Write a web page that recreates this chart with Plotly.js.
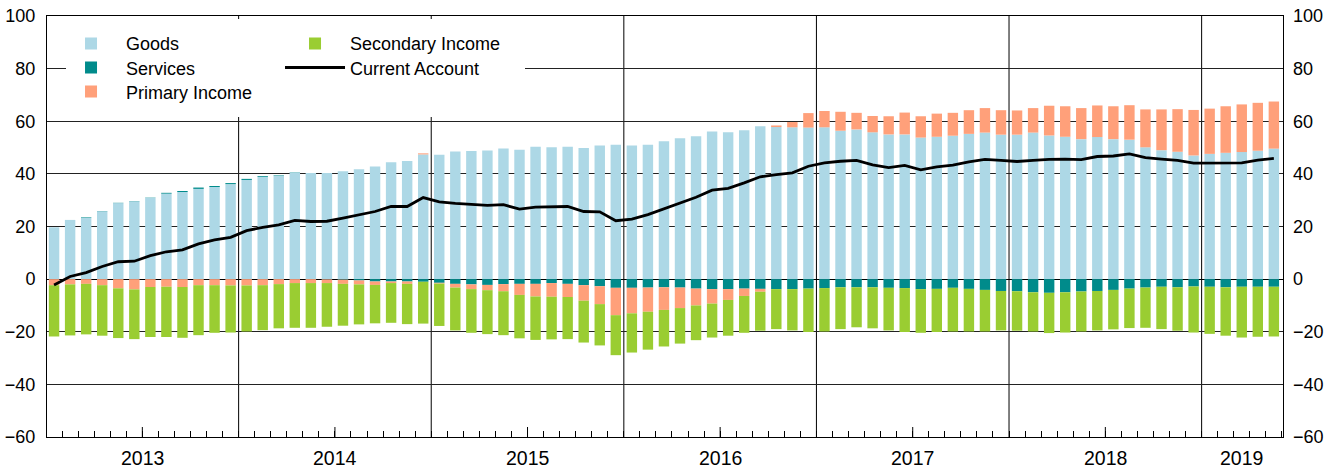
<!DOCTYPE html>
<html>
<head>
<meta charset="utf-8">
<script src="https://cdn.plot.ly/plotly-3.0.1.min.js"></script>
<style>
  html, body { margin: 0; padding: 0; background: #fff; }
  #chart { width: 1337px; height: 471px; }
</style>
</head>
<body>
<div id="chart"></div>
<script>
// ---- Data (monthly, Jan 2013 – May 2019) ----
const years = ['2013', '2014', '2015', '2016', '2017', '2018', '2019'];
const monthsInYear = [12, 12, 12, 12, 12, 12, 5];

const goods = [19.7,22.5,23.3,25.8,28.9,29.6,30.9,32.5,33.1,34.3,35.0,36.1,
  37.7,38.9,39.2,40.5,40.3,40.3,41.0,41.8,42.8,44.4,44.9,47.4,
  47.3,48.5,48.7,48.9,49.6,49.2,50.3,50.1,50.3,49.8,50.8,51.1,
  50.8,51.1,52.4,53.5,54.3,56.1,55.8,56.6,58.1,57.8,57.7,57.6,
  57.7,56.4,56.9,55.8,55.0,55.0,53.8,54.1,54.5,55.2,55.7,54.9,
  54.9,55.7,54.6,54.1,53.2,54.0,53.2,53.0,50.1,49.0,48.4,47.0,
  47.6,48.0,48.3,48.8,49.6];

const services = [0,0,0.2,0.1,0.1,0.1,0.1,0.3,0.4,0.5,0.4,0.4,
  0.4,0.3,0.2,0.1,0,-0.1,-0.2,-0.5,-0.9,-0.9,-0.9,-1.0,
  -1.4,-1.8,-2.0,-2.2,-1.9,-1.8,-1.8,-1.5,-1.8,-2.3,-2.7,-3.3,
  -3.3,-3.2,-3.1,-3.2,-3.6,-3.8,-3.8,-3.6,-3.7,-3.8,-3.8,-3.6,
  -3.4,-3.1,-3.1,-3.1,-3.3,-3.4,-3.8,-3.7,-3.3,-3.7,-4.1,-4.5,
  -4.6,-5.0,-5.2,-5.0,-4.7,-4.5,-4.1,-3.6,-3.2,-2.9,-3.1,-2.8,
  -2.9,-3.1,-2.9,-2.9,-2.9];

const primaryIncome = [-2.3,-2.0,-1.8,-2.3,-3.5,-3.9,-3.0,-2.9,-3.0,-2.3,-2.3,-2.4,
  -2.4,-2.3,-1.9,-1.5,-1.5,-1.4,-1.6,-1.5,-1.3,-0.6,-0.9,0.4,
  -0.3,-1.4,-1.8,-2.0,-2.7,-4.2,-4.8,-5.2,-5.0,-5.9,-6.8,-10.4,
  -9.7,-9.2,-8.6,-7.8,-6.4,-5.5,-4.1,-2.8,-1.1,0.6,2.0,5.5,
  6.2,7.2,6.3,6.2,6.9,8.3,8.1,8.8,8.7,9.0,9.3,9.3,
  9.2,9.3,11.3,11.6,11.8,12.0,12.5,13.1,14.4,15.5,16.2,17.3,
  17.2,17.7,18.1,18.2,17.9];

const secondaryIncome = [-19.5,-19.4,-19.2,-19.2,-18.9,-18.9,-19.0,-19.1,-19.3,-19.0,-18.1,-17.9,
  -17.5,-17.1,-16.8,-17.0,-17.0,-16.6,-15.9,-15.2,-14.6,-15.1,-15.3,-15.9,
  -16.1,-16.3,-16.6,-16.7,-16.7,-16.5,-16.5,-16.2,-16.0,-15.9,-15.7,-15.2,
  -14.9,-14.4,-13.9,-13.5,-13.2,-12.9,-13.6,-14.0,-14.8,-15.2,-15.7,-16.5,
  -16.5,-15.9,-15.2,-15.6,-16.2,-16.7,-16.6,-16.4,-16.6,-16.2,-15.8,-15.0,
  -15.0,-14.9,-15.3,-15.3,-15.2,-15.0,-15.0,-15.0,-15.3,-16.1,-16.5,-17.5,
  -17.9,-18.4,-19.3,-19.0,-18.9];

const currentAccount = [-2.2,1.0,2.5,4.8,6.6,6.8,8.9,10.4,11.1,13.4,14.9,15.9,
  18.4,19.7,20.6,22.3,21.9,22.0,23.2,24.4,25.7,27.6,27.6,31.0,
  29.4,28.8,28.3,28.0,28.3,26.6,27.4,27.4,27.6,25.7,25.6,22.2,
  22.8,24.5,26.6,28.8,31.1,33.8,34.5,36.6,38.9,39.7,40.4,42.9,
  44.2,44.8,45.1,43.4,42.4,43.2,41.5,42.7,43.3,44.6,45.5,45.1,
  44.7,45.1,45.5,45.6,45.4,46.6,46.8,47.6,46.2,45.6,45.1,44.1,
  44.1,44.2,44.2,45.2,45.9];

const yTicks = [-60, -40, -20, 0, 20, 40, 60, 80, 100];

// ---- Build ----
const x = goods.map((_, i) => i);
const FONT = 'Liberation Sans, Arial, sans-serif';

// legend rows: row 1 = Goods | Secondary Income, row 2 = Services | Current Account, row 3 = Primary Income
function barTrace(name, vals, color, legendId, rank) {
  return {
    type: 'bar', name: name, x: x, y: vals,
    marker: { color: color, line: { width: 0 } },
    legend: legendId, legendrank: rank,
    hoverinfo: 'skip'
  };
}

const traces = [
  barTrace('Goods', goods, '#ADD8E6', 'legend', 1),
  barTrace('Services', services, '#008B8B', 'legend2', 1),
  barTrace('Primary Income', primaryIncome, '#FFA07A', 'legend3', 1),
  barTrace('Secondary Income', secondaryIncome, '#9ACD32', 'legend', 2),
  {
    type: 'scatter', mode: 'lines', name: 'Current Account',
    x: x, y: currentAccount, yaxis: 'y2',
    line: { color: '#000000', width: 2.8 },
    legend: 'legend2', legendrank: 2, hoverinfo: 'skip'
  }
];

// Year boundaries, mid-year ticks and year label positions
const shapes = [];
const annotations = [];
let start = 0;
years.forEach((yr, k) => {
  const n = monthsInYear[k];
  if (start > 0) {
    shapes.push({ type: 'line', xref: 'x', yref: 'paper', x0: start - 0.5, x1: start - 0.5,
      y0: 0, y1: 1, layer: 'below', line: { color: '#000', width: 1 } });
  }
  if (n === 12) {
    shapes.push({ type: 'line', xref: 'x', yref: 'paper', x0: start + 5.5, x1: start + 5.5,
      y0: 0, y1: 10 / 421, layer: 'above', line: { color: '#000', width: 1 } });
  }
  annotations.push({ xref: 'x', yref: 'paper', x: start + (n - 1) / 2, y: 0,
    yanchor: 'top', yshift: -8, text: yr, showarrow: false,
    font: { family: FONT, size: 19.5, color: '#000' } });
  start += n;
});

// White area behind the legend (covers grid lines)
shapes.push({ type: 'rect', xref: 'paper', yref: 'paper',
  x0: (66 - 47) / 1236, x1: (525 - 47) / 1236,
  y0: (437 - 117) / 421, y1: (437 - 19) / 421,
  layer: 'above', fillcolor: '#ffffff', line: { width: 0 } });

const xRange = [-0.44, 76.57];
const yRange = [-60, 100];
const tickText = yTicks.map(v => v < 0 ? '\u2212' + Math.abs(v) : String(v));

function legendRow(yPos) {
  return {
    orientation: 'h', x: 0.0073, y: yPos, xanchor: 'left', yanchor: 'top',
    bgcolor: 'rgba(0,0,0,0)', borderwidth: 0, itemwidth: 60,
    entrywidth: 149, entrywidthmode: 'pixels',
    font: { family: FONT, size: 18, color: '#000' }, tracegroupgap: 0
  };
}

const layout = {
  width: 1337, height: 471,
  margin: { l: 47, r: 54, t: 16, b: 34, pad: 0 },
  paper_bgcolor: '#fff', plot_bgcolor: '#fff',
  barmode: 'relative', bargap: 0.35,
  font: { family: FONT, size: 18, color: '#000' },
  showlegend: true,
  xaxis: {
    range: xRange, showgrid: false, zeroline: false,
    showline: true, mirror: true, linecolor: '#000', linewidth: 1,
    tickmode: 'linear', tick0: 0.5, dtick: 1,
    ticks: 'inside', ticklen: 6, tickcolor: '#000', tickwidth: 1,
    showticklabels: false, fixedrange: true
  },
  yaxis: {
    range: yRange, tickmode: 'array', tickvals: yTicks, ticktext: tickText,
    showgrid: true, gridcolor: '#222', gridwidth: 1,
    zeroline: true, zerolinecolor: '#000', zerolinewidth: 1,
    showline: true, mirror: true, linecolor: '#000', linewidth: 1,
    ticks: '', ticklabelstandoff: 7,
    tickfont: { family: FONT, size: 18, color: '#000' }, fixedrange: true
  },
  yaxis2: {
    range: yRange, overlaying: 'y', side: 'right', tickmode: 'array', tickvals: yTicks,
    ticktext: tickText,
    showgrid: false, zeroline: false, showline: false, ticks: '', ticklabelstandoff: 9,
    tickfont: { family: FONT, size: 18, color: '#000' }, fixedrange: true
  },
  legend: legendRow(0.978),
  legend2: legendRow(0.9209),
  legend3: legendRow(0.8639),
  shapes: shapes,
  annotations: annotations,
  hovermode: false
};

Plotly.newPlot('chart', traces, layout, { displayModeBar: false, staticPlot: true });
</script>
</body>
</html>
